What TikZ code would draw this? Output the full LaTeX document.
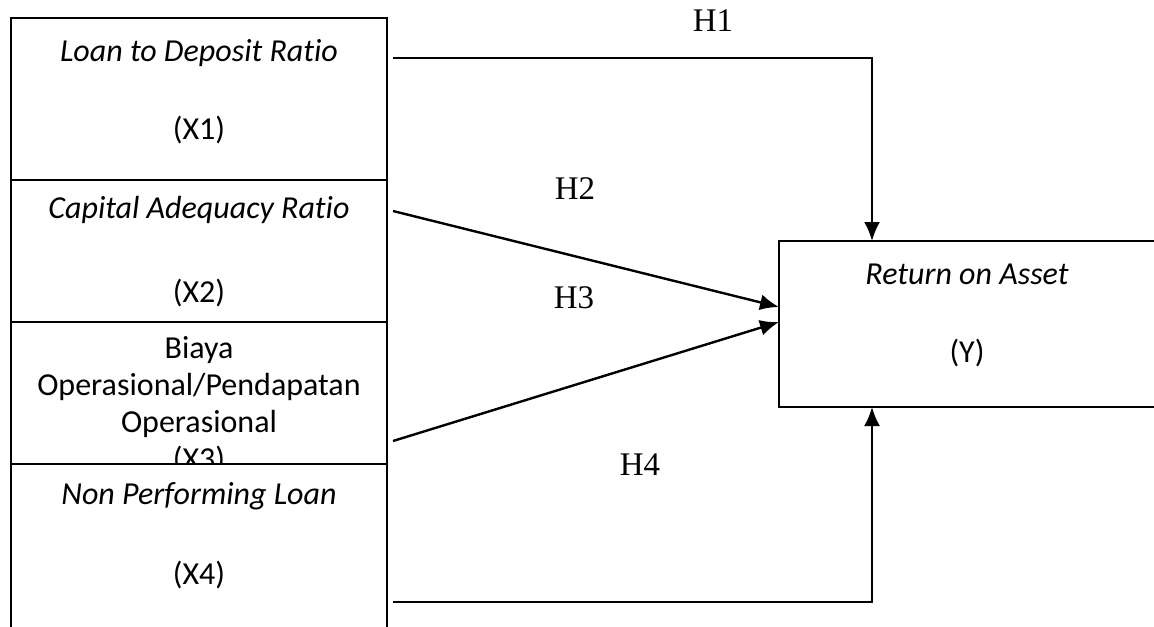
\documentclass[tikz,border=0pt]{standalone}
\usepackage{fontspec}
\setmainfont[Ligatures=NoCommon]{Carlito}
\newfontfamily\hypfont{Liberation Serif}
\usetikzlibrary{positioning,arrows.meta}

\begin{document}
\begin{tikzpicture}[
    x=0.5pt, y=-0.5pt,
    line width=1.2pt,
    varbox/.style={%
      draw,
      rectangle,
      fill=white,
      minimum width=188pt,
      inner sep=0pt,
    },
    vartext/.style={%
      font=\fontsize{16}{18.5}\selectfont,
      inner sep=0pt,
      align=center,
    },
    hyp/.style={%
      font=\hypfont\fontsize{16.5}{18}\selectfont,
      inner sep=0pt,
    },
    link/.style={-{Latex[length=9.5pt,width=8pt]}},
  ]

    \useasboundingbox (0,0) rectangle (1154,626);

    % independent variables
    \node [varbox, minimum height=81pt] (X1) at (199,99) {};
    \node [vartext] (X1a) at (199,53) {\itshape Loan to Deposit Ratio};
    \node [vartext] (X1b) at (199,130) {(X1)};

    \node [varbox, minimum height=71pt] (X2) at (199,251) {};
    \node [vartext] (X2a) at (199,210) {\itshape Capital Adequacy Ratio};
    \node [vartext] (X2b) at (199,293) {(X2)};

    \node [varbox, minimum height=71pt] (X3) at (199,393) {};
    \node [vartext] (X3a) at (199,405) {Biaya\\Operasional/Pendapatan\\Operasional\\(X3)};

    \node [varbox, minimum height=88pt] (X4) at (199,552) {};
    \node [vartext] (X4a) at (199,496) {\itshape Non Performing Loan};
    \node [vartext] (X4b) at (199,575) {(X4)};

    % dependent variable
    \node [varbox, minimum width=189.5pt, minimum height=83pt] (Y) at (968.5,324) {};
    \node [vartext] (Ya) at (967,274) {\itshape Return on Asset};
    \node [vartext] (Yb) at (967,353) {(Y)};

    \coordinate (s1) at (393,58);
    \coordinate (s2) at (393,211);
    \coordinate (s3) at (393,441);
    \coordinate (s4) at (393,602);
    \coordinate (t1) at (872,241);
    \coordinate (t4) at (872,407);
    \coordinate (e2) at (779,307);
    \coordinate (e3) at (779,322);

    \draw [link] (s1) -| (t1);
    \draw [link] (s2) -- (e2);
    \draw [link] (s3) -- (e3);
    \draw [link] (s4) -| (t4);

    \node [hyp] (H1) at (713,21) {H1};
    \node [hyp] (H2) at (575,189) {H2};
    \node [hyp] (H3) at (574,298) {H3};
    \node [hyp] (H4) at (640,465) {H4};

\end{tikzpicture}
\end{document}
